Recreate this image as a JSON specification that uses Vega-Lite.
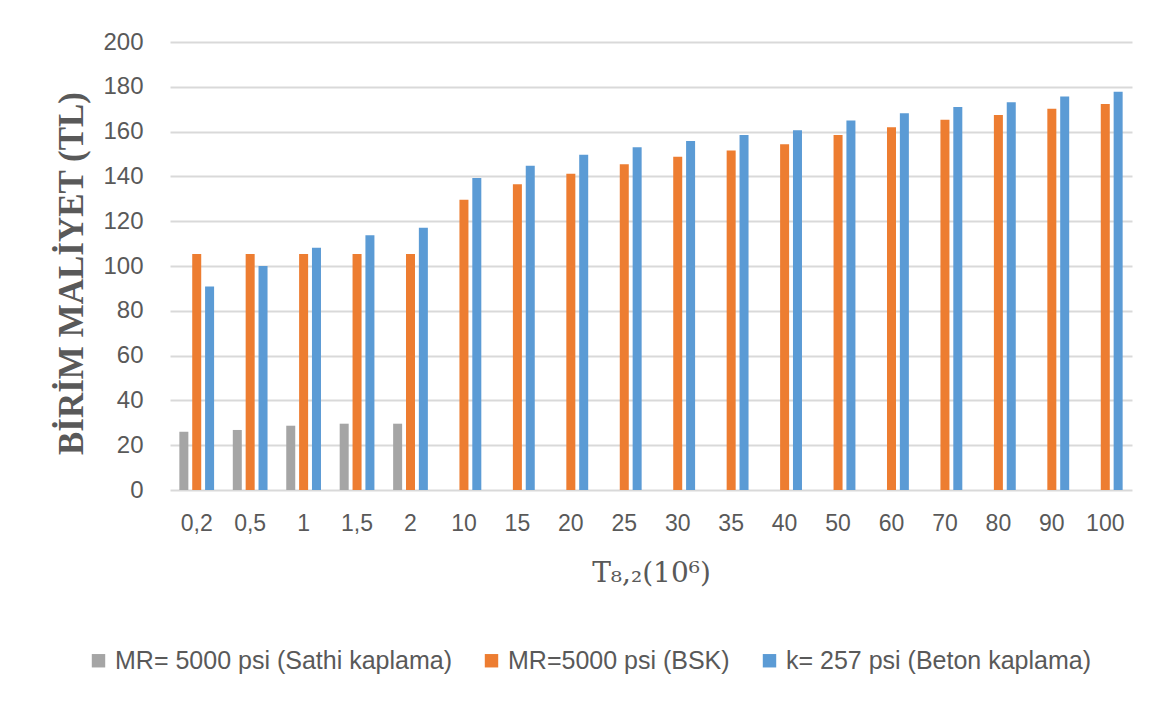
{
  "$schema": "https://vega.github.io/schema/vega-lite/v6.json",
  "autosize": {"type": "none"},
  "width": 962,
  "height": 448,
  "padding": {"left": 170, "top": 42, "right": 31, "bottom": 216},
  "background": "white",
  "config": {
    "view": {"stroke": null},
    "font": "Liberation Sans"
  },
  "data": {
    "values": [
      {"T": "0,2", "seri": "MR= 5000 psi (Sathi kaplama)", "maliyet": 26.0},
      {"T": "0,5", "seri": "MR= 5000 psi (Sathi kaplama)", "maliyet": 26.8},
      {"T": "1", "seri": "MR= 5000 psi (Sathi kaplama)", "maliyet": 28.7},
      {"T": "1,5", "seri": "MR= 5000 psi (Sathi kaplama)", "maliyet": 29.6},
      {"T": "2", "seri": "MR= 5000 psi (Sathi kaplama)", "maliyet": 29.6},
      {"T": "0,2", "seri": "MR=5000 psi (BSK)", "maliyet": 105.4},
      {"T": "0,5", "seri": "MR=5000 psi (BSK)", "maliyet": 105.4},
      {"T": "1", "seri": "MR=5000 psi (BSK)", "maliyet": 105.4},
      {"T": "1,5", "seri": "MR=5000 psi (BSK)", "maliyet": 105.4},
      {"T": "2", "seri": "MR=5000 psi (BSK)", "maliyet": 105.4},
      {"T": "10", "seri": "MR=5000 psi (BSK)", "maliyet": 129.6},
      {"T": "15", "seri": "MR=5000 psi (BSK)", "maliyet": 136.5},
      {"T": "20", "seri": "MR=5000 psi (BSK)", "maliyet": 141.2},
      {"T": "25", "seri": "MR=5000 psi (BSK)", "maliyet": 145.4},
      {"T": "30", "seri": "MR=5000 psi (BSK)", "maliyet": 148.8},
      {"T": "35", "seri": "MR=5000 psi (BSK)", "maliyet": 151.6},
      {"T": "40", "seri": "MR=5000 psi (BSK)", "maliyet": 154.3},
      {"T": "50", "seri": "MR=5000 psi (BSK)", "maliyet": 158.5},
      {"T": "60", "seri": "MR=5000 psi (BSK)", "maliyet": 161.9},
      {"T": "70", "seri": "MR=5000 psi (BSK)", "maliyet": 165.3},
      {"T": "80", "seri": "MR=5000 psi (BSK)", "maliyet": 167.4},
      {"T": "90", "seri": "MR=5000 psi (BSK)", "maliyet": 170.2},
      {"T": "100", "seri": "MR=5000 psi (BSK)", "maliyet": 172.3},
      {"T": "0,2", "seri": "k= 257 psi (Beton kaplama)", "maliyet": 90.9},
      {"T": "0,5", "seri": "k= 257 psi (Beton kaplama)", "maliyet": 100.0},
      {"T": "1", "seri": "k= 257 psi (Beton kaplama)", "maliyet": 108.2},
      {"T": "1,5", "seri": "k= 257 psi (Beton kaplama)", "maliyet": 113.7},
      {"T": "2", "seri": "k= 257 psi (Beton kaplama)", "maliyet": 117.1},
      {"T": "10", "seri": "k= 257 psi (Beton kaplama)", "maliyet": 139.3},
      {"T": "15", "seri": "k= 257 psi (Beton kaplama)", "maliyet": 144.8},
      {"T": "20", "seri": "k= 257 psi (Beton kaplama)", "maliyet": 149.7},
      {"T": "25", "seri": "k= 257 psi (Beton kaplama)", "maliyet": 153.0},
      {"T": "30", "seri": "k= 257 psi (Beton kaplama)", "maliyet": 155.8},
      {"T": "35", "seri": "k= 257 psi (Beton kaplama)", "maliyet": 158.5},
      {"T": "40", "seri": "k= 257 psi (Beton kaplama)", "maliyet": 160.6},
      {"T": "50", "seri": "k= 257 psi (Beton kaplama)", "maliyet": 164.9},
      {"T": "60", "seri": "k= 257 psi (Beton kaplama)", "maliyet": 168.2},
      {"T": "70", "seri": "k= 257 psi (Beton kaplama)", "maliyet": 171.0},
      {"T": "80", "seri": "k= 257 psi (Beton kaplama)", "maliyet": 173.1},
      {"T": "90", "seri": "k= 257 psi (Beton kaplama)", "maliyet": 175.7},
      {"T": "100", "seri": "k= 257 psi (Beton kaplama)", "maliyet": 177.8}
    ]
  },
  "mark": {"type": "bar"},
  "encoding": {
    "x": {
      "field": "T",
      "type": "nominal",
      "sort": ["0,2", "0,5", "1", "1,5", "2", "10", "15", "20", "25", "30", "35", "40", "50", "60", "70", "80", "90", "100"],
      "scale": {"paddingInner": 0.35, "paddingOuter": 0.175},
      "axis": {
        "title": "T₈,₂(10⁶)",
        "titleFont": "DejaVu Serif",
        "titleFontWeight": "normal",
        "titleFontSize": 28,
        "titleColor": "#595959",
        "titlePadding": 24,
        "labelAngle": 0,
        "labelFontSize": 23,
        "labelColor": "#595959",
        "labelPadding": 22,
        "domain": false,
        "ticks": false
      }
    },
    "xOffset": {
      "field": "seri",
      "type": "nominal",
      "sort": ["MR= 5000 psi (Sathi kaplama)", "MR=5000 psi (BSK)", "k= 257 psi (Beton kaplama)"],
      "scale": {"paddingInner": 0.3}
    },
    "y": {
      "field": "maliyet",
      "type": "quantitative",
      "scale": {"domain": [0, 200]},
      "axis": {
        "title": "BİRİM MALİYET (TL)",
        "titleFont": "Liberation Serif",
        "titleFontWeight": "bold",
        "titleFontSize": 35,
        "titleColor": "#595959",
        "titleX": -99,
        "titleY": 231,
        "titleAngle": 270,
        "titleAlign": "center",
        "titleBaseline": "middle",
        "values": [0, 20, 40, 60, 80, 100, 120, 140, 160, 180, 200],
        "labelFontSize": 24,
        "labelColor": "#595959",
        "labelPadding": 27,
        "domain": false,
        "ticks": false,
        "gridColor": "#D9D9D9",
        "gridWidth": 2
      }
    },
    "color": {
      "field": "seri",
      "type": "nominal",
      "sort": ["MR= 5000 psi (Sathi kaplama)", "MR=5000 psi (BSK)", "k= 257 psi (Beton kaplama)"],
      "scale": {
        "domain": ["MR= 5000 psi (Sathi kaplama)", "MR=5000 psi (BSK)", "k= 257 psi (Beton kaplama)"],
        "range": ["#A5A5A5", "#ED7D31", "#5B9BD5"]
      },
      "legend": {
        "title": null,
        "orient": "none",
        "direction": "horizontal",
        "legendX": -84,
        "legendY": 606,
        "symbolType": "square",
        "symbolSize": 180,
        "symbolStrokeWidth": 0,
        "labelFontSize": 25,
        "labelColor": "#595959",
        "labelLimit": 500,
        "columnPadding": 27,
        "symbolOffset": 0,
        "labelOffset": 4
      }
    }
  }
}
